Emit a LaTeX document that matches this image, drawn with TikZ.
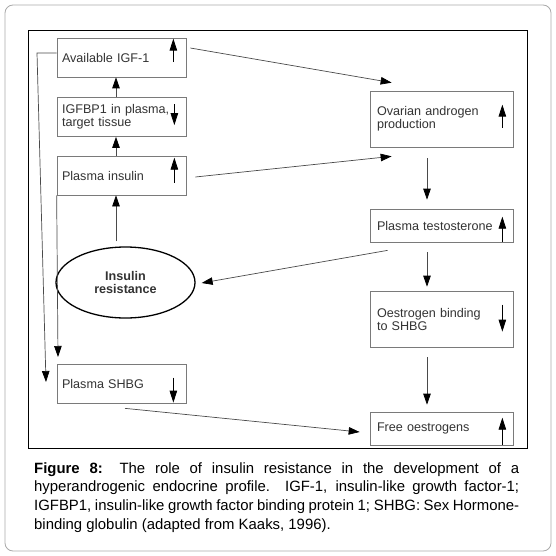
\documentclass[tikz,border=0pt]{standalone}
\usepackage{fontspec}
\setmainfont{Liberation Sans}
\usetikzlibrary{arrows.meta,shapes.geometric,calc}
\definecolor{boxgray}{HTML}{7A7A7A}
\definecolor{txtgray}{HTML}{333333}
\definecolor{lngray}{HTML}{4A4A4A}
\definecolor{outergray}{HTML}{AAAAAA}
\begin{document}
\begin{tikzpicture}[x=1pt,y=-1pt,
  basebox/.style={draw=boxgray, line width=0.7pt, inner ysep=0pt, text=txtgray,
    align=left, font={\fontsize{12.6}{13}\selectfont}},
  lbox/.style={basebox, inner xsep=5pt, text width=119pt, minimum height=39pt},
  rbox/.style={basebox, inner xsep=7pt, text width=129pt},
  arr/.style={draw=lngray, line width=0.7pt, -{Triangle[length=11pt,width=7.5pt,color=black]}},
  ind/.style={draw=black, line width=0.8pt, -{Triangle[length=12pt,width=7.5pt,color=black]}},
  ell/.style={draw=black, ellipse, line width=1.3pt, minimum width=139pt, minimum height=71pt,
    inner sep=0pt, align=center, text=txtgray, font={\bfseries\fontsize{12.6}{13}\selectfont}}
]
\fill[white] (0,0) rectangle (556,556);
\useasboundingbox (0,0) rectangle (556,556);
\draw[outergray, line width=0.8pt, rounded corners=8pt] (5,5) rectangle (551,551);
\draw[black, line width=0.9pt] (28,30) rectangle (527,448);

% left column
\node[lbox] (avail) at (121.5,57.5) {Available IGF-1};
\node[lbox] (igfbp) at (121.5,117) {IGFBP1 in plasma,\\target tissue};
\node[lbox] (insulin) at (121.5,175.5) {Plasma insulin};
\node[lbox] (shbg) at (121.5,383.5) {Plasma SHBG};
\node[ell] (ir) at (125.5,282.5) {Insulin\\resistance};

% right column
\node[rbox, minimum height=56pt] (ovarian) at (441.5,119) {Ovarian androgen\\production};
\node[rbox, minimum height=33pt] (testo) at (441.5,225.5) {Plasma testosterone};
\node[rbox, minimum height=56pt] (oestro) at (441.5,319) {Oestrogen binding\\to SHBG};
\node[rbox, minimum height=33pt] (free) at (441.5,428.5) {Free oestrogens};

% indicator arrows
\draw[ind] ($(avail.north east)+(-13,24.5)$) -- ($(avail.north east)+(-13,1)$);
\draw[ind] ($(igfbp.north east)+(-12,7)$) -- ($(igfbp.north east)+(-12,28)$);
\draw[ind] ($(insulin.north east)+(-12,27)$) -- ($(insulin.north east)+(-12,2)$);
\draw[ind] ($(shbg.north east)+(-13,14)$) -- ($(shbg.north east)+(-13,39)$);
\draw[ind] ($(ovarian.north east)+(-11,37)$) -- ($(ovarian.north east)+(-11,14)$);
\draw[ind] ($(testo.north east)+(-11,33)$) -- ($(testo.north east)+(-11,8)$);
\draw[ind] ($(oestro.north east)+(-11,14)$) -- ($(oestro.north east)+(-11,41)$);
\draw[ind] ($(free.north east)+(-11,33)$) -- ($(free.north east)+(-11,6)$);

% left column connectors
\draw[arr] ([xshift=-5.5pt]igfbp.north) -- ([xshift=-5.5pt]avail.south);
\draw[arr] ([xshift=-5.5pt]insulin.north) -- ([xshift=-5.5pt]igfbp.south);
\draw[arr] ($(ir.north)+(-9.5,-5)$) -- ($(insulin.south)+(-5.5,0)$);

% right column connectors
\draw[arr] ($(ovarian.south)+(-14.5,11)$) -- ($(testo.north)+(-14.5,-9)$);
\draw[arr] ($(testo.south)+(-14.5,10)$) -- ($(oestro.north)+(-14.5,-4)$);
\draw[arr] ($(oestro.south)+(-14.5,10)$) -- ($(free.north)+(-14.5,-7)$);

% diagonal connectors
\draw[arr] ($(avail.east)+(4,-9.5)$) -- ($(ovarian.north west)+(22,-8)$);
\draw[arr] ($(insulin.east)+(9,1.5)$) -- ($(ovarian.south west)+(22,9)$);
\draw[arr] ($(testo.south west)+(18,8)$) -- ($(ir.east)+(6,0.5)$);
\draw[arr] ($(shbg.south)+(3.5,5)$) -- ($(free.west)+(-10,3.5)$);

% feedback lines
\coordinate (fa) at (37,53);
\coordinate (fb) at (46,382);
\coordinate (fc) at (58,357);
\draw[arr] ($(avail.west)+(0,-4.5)$) -- (fa) -- (fb);
\draw[arr] (insulin.south west) -- (fc);

% caption
\node[anchor=north west, text width=485pt, align=justify, inner sep=0pt,
  font={\fontsize{14.9}{18.7}\selectfont}] (cap) at (34,462)
  {\textbf{Figure 8:} The role of insulin resistance in the development of a\linebreak
   hyperandrogenic endocrine profile. IGF-1, insulin-like growth factor-1;\linebreak
   IGFBP1, insulin-like growth factor binding protein 1; SHBG: Sex Hormone-\linebreak
   binding globulin (adapted from Kaaks, 1996).};
\end{tikzpicture}
\end{document}
